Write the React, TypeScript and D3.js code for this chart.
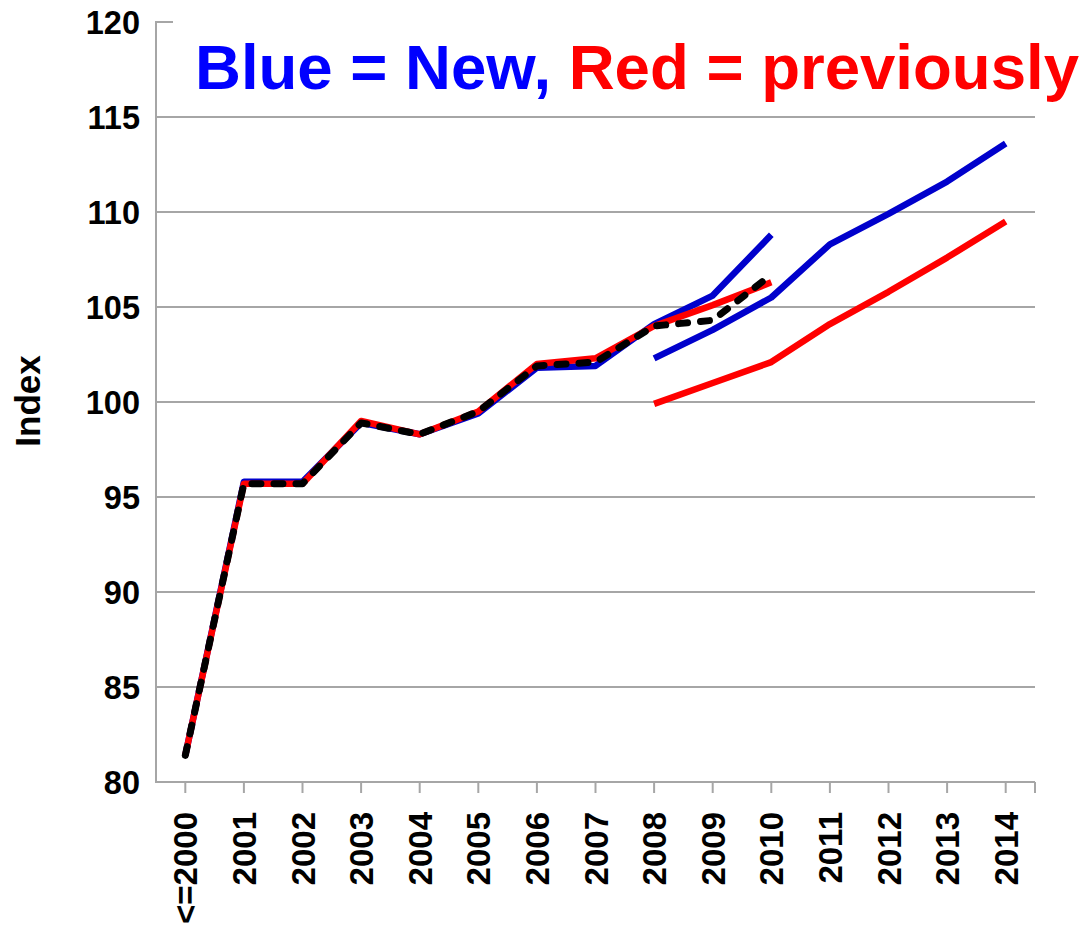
import React, { useEffect, useRef } from 'react';
import * as d3 from 'd3';

const years = ['<=2000', '2001', '2002', '2003', '2004', '2005', '2006', '2007', '2008', '2009', '2010', '2011', '2012', '2013', '2014'];
const yTicks = [80, 85, 90, 95, 100, 105, 110, 115, 120];

// history lines, <=2000 .. 2010
const blueHistory = [81.4, 95.8, 95.8, 98.9, 98.3, 99.4, 101.8, 101.9, 104.1, 105.6, 108.8];
const redHistory = [81.4, 95.7, 95.7, 99.0, 98.3, 99.5, 102.0, 102.3, 104.0, 105.1, 106.3];
const blackHistory = [81.4, 95.7, 95.7, 98.9, 98.3, 99.5, 101.9, 102.1, 104.0, 104.3, 106.7];

// forecast lines, 2008 .. 2014
const forecastYears = ['2008', '2009', '2010', '2011', '2012', '2013', '2014'];
const blueForecast = [102.3, 103.8, 105.5, 108.3, 109.9, 111.6, 113.6];
const redForecast = [99.9, 101.0, 102.1, 104.1, 105.8, 107.6, 109.5];

const App = () => {
  const svgRef = useRef<SVGSVGElement>(null);

  useEffect(() => {
    const svg = d3.select(svgRef.current);
    svg.selectAll('*').remove();

    const left = 156, right = 1035, top = 22, bottom = 782;
    const font = '"Liberation Sans", Arial, sans-serif';

    const x = d3.scalePoint<string>().domain(years).range([left, right]).padding(0.5);
    const y = d3.scaleLinear().domain([80, 120]).range([bottom, top]);

    // gridlines
    svg.append('g')
      .selectAll('line')
      .data(yTicks.filter(d => d > 80 && d < 120))
      .join('line')
      .attr('x1', left).attr('x2', right)
      .attr('y1', d => y(d)).attr('y2', d => y(d))
      .attr('stroke', '#a6a6a6').attr('stroke-width', 2);

    // short top tick
    svg.append('line')
      .attr('x1', left).attr('x2', left + 17)
      .attr('y1', y(120)).attr('y2', y(120))
      .attr('stroke', '#a6a6a6').attr('stroke-width', 2);

    // axes
    svg.append('line')
      .attr('x1', left).attr('x2', left).attr('y1', top - 1).attr('y2', bottom + 1)
      .attr('stroke', '#a6a6a6').attr('stroke-width', 2);
    svg.append('line')
      .attr('x1', left).attr('x2', right).attr('y1', bottom).attr('y2', bottom)
      .attr('stroke', '#a6a6a6').attr('stroke-width', 2);

    svg.append('g')
      .selectAll('line')
      .data([...years.map(d => x(d) as number), right])
      .join('line')
      .attr('x1', d => d).attr('x2', d => d)
      .attr('y1', bottom).attr('y2', bottom + 11)
      .attr('stroke', '#a6a6a6').attr('stroke-width', 2);

    // y tick labels
    svg.append('g')
      .selectAll('text')
      .data(yTicks)
      .join('text')
      .attr('x', 140)
      .attr('y', d => y(d))
      .attr('dy', '0.36em')
      .attr('text-anchor', 'end')
      .style('font-family', font)
      .style('font-size', '32.5px')
      .style('font-weight', 'bold')
      .text(d => d);

    // x tick labels
    svg.append('g')
      .selectAll('text')
      .data(years)
      .join('text')
      .attr('transform', d => `translate(${(x(d) as number) + 12},812) rotate(-90)`)
      .attr('text-anchor', 'end')
      .style('font-family', font)
      .style('font-size', '33px')
      .style('font-weight', 'bold')
      .text(d => d);

    svg.append('text')
      .attr('transform', 'translate(40,401) rotate(-90)')
      .attr('text-anchor', 'middle')
      .style('font-family', font)
      .style('font-size', '35px')
      .style('font-weight', 'bold')
      .text('Index');

    const line = d3.line<[string, number]>()
      .x(d => x(d[0]) as number)
      .y(d => y(d[1]));

    const hist = (vals: number[]) => vals.map((v, i) => [years[i], v] as [string, number]);
    const fc = (vals: number[]) => vals.map((v, i) => [forecastYears[i], v] as [string, number]);

    const draw = (pts: [string, number][], color: string, width: number, dash?: string) => {
      const p = svg.append('path')
        .attr('d', line(pts))
        .attr('fill', 'none')
        .attr('stroke', color)
        .attr('stroke-width', width)
        .attr('stroke-linejoin', 'round');
      if (dash) p.attr('stroke-dasharray', dash).attr('stroke-linecap', 'round');
    };

    draw(fc(blueForecast), '#0000cc', 6.5);
    draw(fc(redForecast), '#ff0000', 6.5);
    draw(hist(blueHistory), '#0000cc', 6.5);
    draw(hist(redHistory), '#ff0000', 6.5);
    draw(hist(blackHistory), '#000000', 7, '9,13');

    // title
    const title = svg.append('text')
      .attr('x', 195).attr('y', 89)
      .attr('textLength', 884)
      .attr('lengthAdjust', 'spacingAndGlyphs')
      .style('font-family', font)
      .style('font-size', '63.5px')
      .style('font-weight', 'bold');
    title.append('tspan').attr('fill', '#0000ff').text('Blue = New, ');
    title.append('tspan').attr('fill', '#ff0000').text('Red = previously');
  }, []);

  return (
    <svg
      ref={svgRef}
      width={1084}
      height={927}
      style={{ position: 'absolute', left: 0, top: 0, background: '#fff' }}
    />
  );
};

export default App;
